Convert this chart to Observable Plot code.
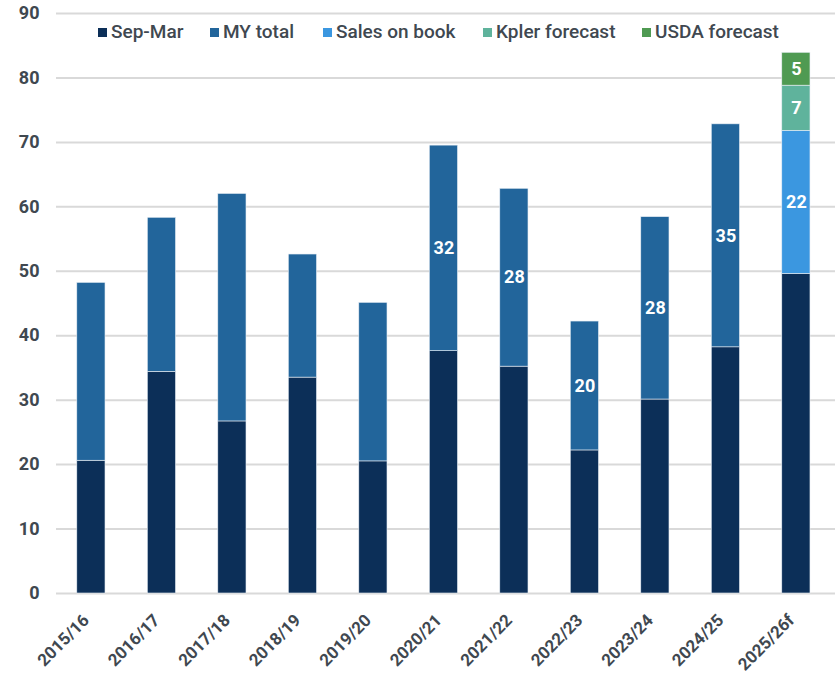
<!DOCTYPE html>
<html>
<head>
<meta charset="utf-8">
<script src="https://cdn.jsdelivr.net/npm/d3@7"></script>
<script src="https://cdn.jsdelivr.net/npm/@observablehq/plot@0.6"></script>
<style>
  html, body { margin: 0; padding: 0; background: #fff; }
  #wrap { position: relative; width: 835px; height: 675px; font-family: Roboto, "Noto Sans", sans-serif; }
  #legend { position: absolute; left: 98px; top: 20px; display: grid; grid-template-columns: 112px 113px 160px 159px auto; font-size: 19px; font-weight: 500; color: #404850; white-space: nowrap; line-height: 24px; }
  #legend .item { display: flex; align-items: center; }
  #legend .sw { width: 9px; height: 9px; margin-right: 4px; }
</style>
</head>
<body>
<div id="wrap"><div id="legend"></div></div>
<script>
const years = ["2015/16","2016/17","2017/18","2018/19","2019/20","2020/21","2021/22","2022/23","2023/24","2024/25","2025/26f"];
const sepMar      = [20.6, 34.4, 26.7, 33.5, 20.5, 37.6, 35.2, 22.2, 30.1, 38.2, 49.6];
const myTotal     = [48.2, 58.3, 62.0, 52.6, 45.1, 69.5, 62.8, 42.2, 58.4, 72.8, null];
const salesOnBook = [null, null, null, null, null, null, null, null, null, null, 22.2];
const kplerFcst   = [null, null, null, null, null, null, null, null, null, null, 7.0];
const usdaFcst    = [null, null, null, null, null, null, null, null, null, null, 5.1];
const labeledYears = ["2020/21","2021/22","2022/23","2023/24","2024/25","2025/26f"];
const seriesNames = ["Sep-Mar", "MY total", "Sales on book", "Kpler forecast", "USDA forecast"];
const seriesColors = ["#0c2f58", "#22659b", "#3b97e0", "#5fb39c", "#4f9a52"];
const yTicks = [0, 10, 20, 30, 40, 50, 60, 70, 80, 90];

const rows = [];
years.forEach((yr, i) => {
  const lab = labeledYears.includes(yr);
  rows.push({year: yr, series: "Sep-Mar", value: sepMar[i], labeled: false});
  if (myTotal[i] != null) rows.push({year: yr, series: "MY total", value: myTotal[i] - sepMar[i], labeled: lab});
  if (salesOnBook[i] != null) rows.push({year: yr, series: "Sales on book", value: salesOnBook[i], labeled: lab});
  if (kplerFcst[i] != null) rows.push({year: yr, series: "Kpler forecast", value: kplerFcst[i], labeled: lab});
  if (usdaFcst[i] != null) rows.push({year: yr, series: "USDA forecast", value: usdaFcst[i], labeled: lab});
});

const chart = Plot.plot({
  width: 835,
  height: 675,
  marginTop: 13,
  marginBottom: 82,
  marginLeft: 56,
  marginRight: 0,
  style: {fontFamily: "Roboto, 'Noto Sans', sans-serif", background: "#fff"},
  x: {domain: years, paddingInner: 0.6, paddingOuter: 0.325, align: 0.454, round: false, label: null},
  y: {domain: [0, 90], ticks: yTicks, label: null},
  color: {domain: seriesNames, range: seriesColors},
  marks: [
    Plot.ruleY(yTicks, {stroke: "#d9d9d9", strokeWidth: 2}),
    Plot.barY(rows, Plot.stackY({x: "year", y: "value", fill: "series", z: "series", order: seriesNames, stroke: "#e8eef5", strokeWidth: 0.6})),
    Plot.text(rows, Plot.stackY({x: "year", y: "value", z: "series", order: seriesNames,
      text: d => d.labeled ? String(Math.round(d.value)) : "",
      fill: "white", fontSize: 18, fontWeight: 700})),
    Plot.axisY({ticks: yTicks, tickSize: 0, tickPadding: 17, fontSize: 18, fontWeight: 700, fill: "#404850", label: null}),
    Plot.axisX({tickSize: 0, tickRotate: -45, tickPadding: 14, dx: -5, dy: 10, fontSize: 17, fontWeight: 700, fill: "#404850", label: null})
  ]
});
document.getElementById("wrap").appendChild(chart);
const legend = document.getElementById("legend");
seriesNames.forEach((name, i) => {
  const it = document.createElement("div");
  it.className = "item";
  it.innerHTML = `<span class="sw" style="background:${seriesColors[i]}"></span><span>${name}</span>`;
  legend.appendChild(it);
});
</script>
</body>
</html>
